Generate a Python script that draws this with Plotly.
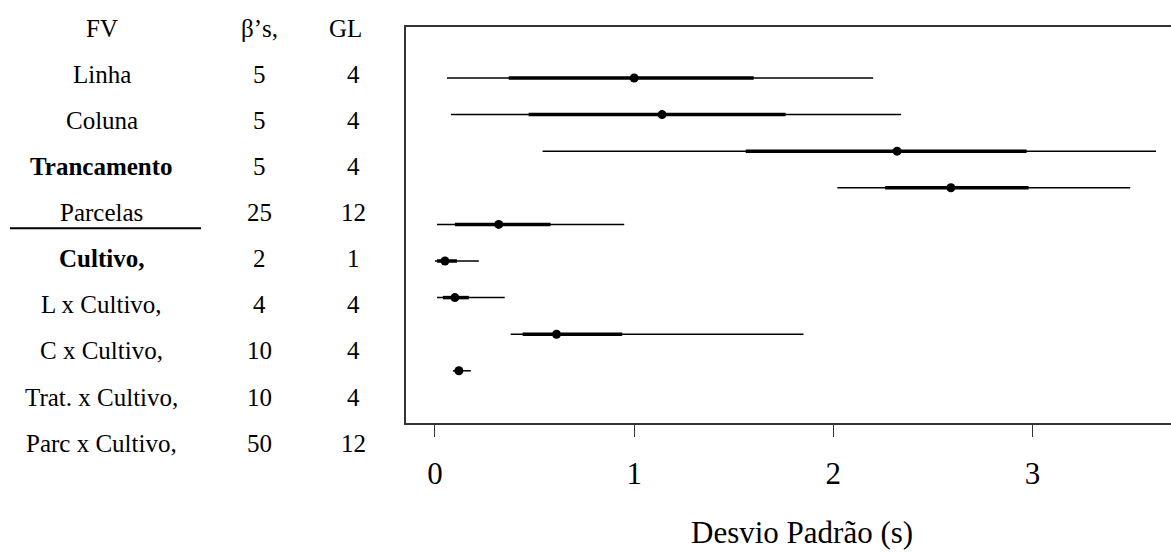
import plotly.graph_objects as go

# Source-of-variation table
fv_labels = ["Linha", "Coluna", "Trancamento", "Parcelas", "Cultivo,",
             "L x Cultivo,", "C x Cultivo,", "Trat. x Cultivo,", "Parc x Cultivo,"]
fv_bold = [False, False, True, False, True, False, False, False, False]
betas = ["5", "5", "5", "25", "2", "4", "10", "10", "50"]
gl = ["4", "4", "4", "12", "1", "4", "4", "4", "12"]

# Posterior summaries of the standard deviations (s)
median = [1.00, 1.14, 2.32, 2.59, 0.32, 0.05, 0.10, 0.61, 0.12]
q25 = [0.37, 0.47, 1.56, 2.26, 0.10, 0.01, 0.04, 0.44, 0.10]
q75 = [1.60, 1.76, 2.97, 2.98, 0.58, 0.11, 0.17, 0.94, 0.14]
q025 = [0.06, 0.08, 0.54, 2.02, 0.01, 0.00, 0.01, 0.38, 0.09]
q975 = [2.20, 2.34, 3.62, 3.49, 0.95, 0.22, 0.35, 1.85, 0.18]

x_ticks = [0, 1, 2, 3]

FONT = "Liberation Serif, Times New Roman, serif"
rows = list(range(len(median)))

def segments(lo, hi):
    xs, ys = [], []
    for r, a, b in zip(rows, lo, hi):
        xs += [a, b, None]
        ys += [r, r, None]
    return xs, ys

fig = go.Figure()
tx, ty = segments(q025, q975)
fig.add_trace(go.Scatter(x=tx, y=ty, mode="lines",
                         line=dict(color="black", width=1.5), hoverinfo="skip"))
kx, ky = segments(q25, q75)
fig.add_trace(go.Scatter(x=kx, y=ky, mode="lines",
                         line=dict(color="black", width=3.5), hoverinfo="skip"))
fig.add_trace(go.Scatter(x=median, y=rows, mode="markers",
                         marker=dict(color="black", size=9)))

# Table columns drawn on their own hidden axes
annotations = []
col_fv, col_beta, col_gl, col_gl_head = 0.256, 0.653, 0.889, 0.869
header = [("FV", col_fv), ("\u03b2\u2019s,", col_beta), ("GL", col_gl_head)]
for text, cx in header:
    annotations.append(dict(x=cx, y=0, xref="x2", yref="y2", text=text,
                            showarrow=False, font=dict(family=FONT, size=25, color="black")))
for i, (name, b, g, bold) in enumerate(zip(fv_labels, betas, gl, fv_bold)):
    label = f"<b>{name}</b>" if bold else name
    for text, cx in [(label, col_fv), (b, col_beta), (g, col_gl)]:
        annotations.append(dict(x=cx, y=i + 1, xref="x2", yref="y2", text=text,
                                showarrow=False,
                                font=dict(family=FONT, size=25, color="black")))

annotations.append(dict(x=0.685, y=0.0, xref="paper", yref="paper",
                        text="Desvio Padrão (s)", showarrow=False,
                        xanchor="center", yanchor="bottom",
                        font=dict(family=FONT, size=31, color="black")))

fig.add_shape(type="line", xref="x2", yref="y2", x0=0.025, x1=0.505, y0=4.34, y1=4.34,
              line=dict(color="black", width=2))

fig.update_layout(
    width=1171, height=552,
    margin=dict(l=0, r=0, t=0, b=0),
    paper_bgcolor="white", plot_bgcolor="white",
    showlegend=False,
    annotations=annotations,
    xaxis=dict(domain=[0.3467, 1.0], range=[-0.1456, 3.695],
               tickvals=x_ticks, ticks="outside", ticklen=12, tickwidth=1.2,
               tickcolor="#333", showline=True, linecolor="#333", linewidth=1.5,
               mirror=True, showgrid=False, zeroline=False, ticklabelstandoff=10,
               tickfont=dict(family=FONT, size=31, color="black")),
    yaxis=dict(domain=[0.2337, 0.9511], range=[9.426, -1.393],
               showline=True, linecolor="#333", linewidth=1.5, mirror=False,
               showticklabels=False, ticks="", showgrid=False, zeroline=False),
    xaxis2=dict(domain=[0, 0.34], range=[0, 1], visible=False),
    yaxis2=dict(domain=[0, 1], range=[11.36, -0.607], visible=False, anchor="x2"),
)

fig.write_html("out.html")
